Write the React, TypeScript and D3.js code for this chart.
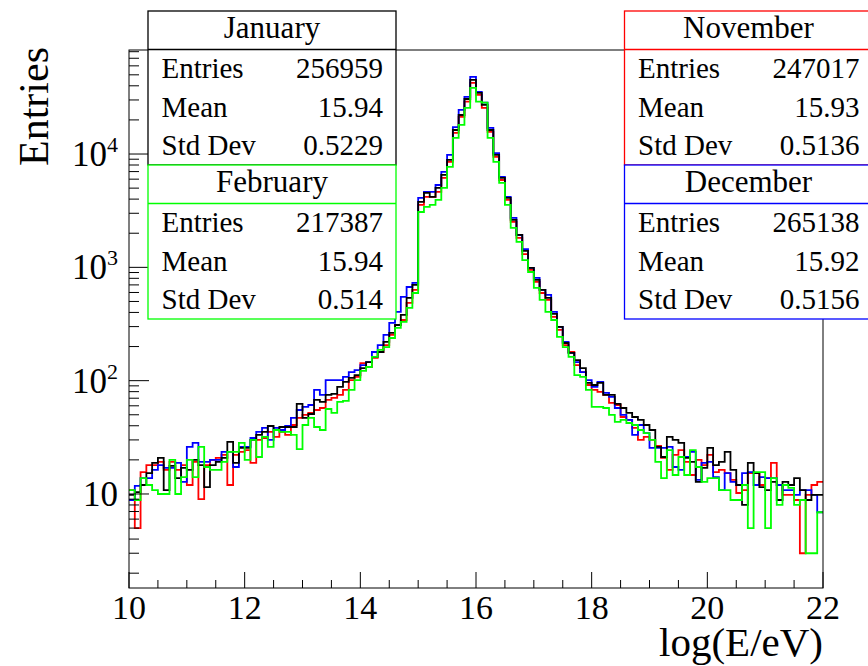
import React from "react";
import * as d3 from "d3";

// Canvas and histogram binning
const W = 868;
const H = 666;
const binLow = 10;
const binHigh = 22;
const nBins = 120;

// Bin contents, 0.1-wide bins from 10 to 22 in log(E/eV)
const january = [
  9.8, 10.4, 12.0, 15.3, 18.8, 20.8, 10.8, 17.7, 13.8, 17.0,
  16.3, 20.0, 18.0, 11.5, 18.0, 19.2, 20.8, 28.8, 18.8, 25.5,
  25.5, 30.0, 33.2, 35.3, 39.8, 36.7, 39.0, 39.0, 39.0, 62.3,
  46.9, 50.8, 67.6, 64.9, 74.8, 76.3, 88.0, 97.5, 106, 112,
  129, 146, 162, 179, 220, 264, 310, 380, 537, 700,
  3776, 4540, 4180, 5020, 6540, 8880, 16300, 22100, 30600, 45100,
  34600, 27100, 16300, 9820, 6150, 4100, 2620, 1933, 1397, 988,
  774, 632, 537, 388, 298, 215, 176, 152, 129, 95.5,
  91.6, 95.5, 74.8, 74.8, 62.3, 57.4, 51.9, 47.8, 45.0, 40.6,
  36.7, 26.0, 21.2, 31.9, 30.0, 28.2, 20.8, 19.2, 12.8, 17.0,
  25.5, 18.0, 19.2, 23.5, 16.3, 12.0, 8.0, 18.8, 15.3, 11.5,
  10.8, 12.8, 8.85, 12.8, 12.0, 13.8, 10.8, 8.85, 9.8, 9.8,
];

const february = [
  10.8, 8.85, 13.8, 12.0, 10.8, 10.0, 10.0, 20.0, 10.0, 14.1,
  20.0, 14.1, 26.0, 17.3, 16.3, 16.3, 19.2, 23.5, 23.5, 28.2,
  20.0, 30.0, 21.2, 31.9, 26.0, 36.7, 35.3, 35.3, 33.2, 24.9,
  40.6, 46.9, 39.0, 36.7, 56.2, 51.9, 64.9, 66.2, 82.8, 101,
  122, 132, 162, 187, 198, 238, 292, 330, 438, 594,
  3080, 3410, 3560, 3940, 5020, 7690, 13870, 18070, 25530, 38300,
  28990, 28400, 13870, 8510, 5560, 3560, 2230, 1675, 1160, 910,
  658, 516, 404, 343, 243, 198, 162, 112, 108, 82.8,
  58.6, 58.6, 57.4, 49.8, 43.2, 45.0, 42.3, 40.6, 36.7, 34.5,
  30.0, 19.2, 13.8, 24.4, 14.7, 21.2, 14.7, 24.4, 17.3, 12.8,
  13.8, 13.8, 10.8, 10.8, 8.85, 8.85, 12.0, 5.0, 15.6, 15.6,
  5.0, 13.8, 8.0, 12.0, 11.3, 8.0, 8.85, 3.0, 3.0, 6.9,
];

const november = [
  10.8, 5.0, 15.6, 18.0, 18.0, 19.2, 16.3, 19.2, 16.3, 18.0,
  12.0, 19.2, 9.0, 18.0, 20.0, 20.8, 22.1, 12.0, 22.1, 23.5,
  24.4, 18.8, 30.0, 31.2, 35.3, 31.9, 35.3, 33.2, 40.6, 46.9,
  49.8, 51.9, 55.1, 57.4, 67.6, 70.4, 74.8, 82.8, 101, 108,
  143, 132, 159, 179, 206, 254, 310, 343, 485, 632,
  3560, 4180, 4180, 4630, 6150, 8510, 15350, 21250, 29000, 42400,
  33200, 25500, 15700, 9420, 5900, 3940, 2520, 1820, 1310, 948,
  743, 594, 516, 365, 281, 206, 179, 137, 119, 91.6,
  82.8, 79.5, 74.8, 63.6, 61.0, 47.8, 45.0, 38.3, 30.0, 31.9,
  30.0, 26.5, 20.8, 16.3, 22.1, 24.4, 19.2, 14.7, 20.0, 18.0,
  22.1, 15.6, 16.3, 15.3, 13.3, 10.2, 10.8, 15.3, 15.3, 12.0,
  13.8, 18.8, 12.0, 9.8, 9.8, 8.85, 3.0, 9.8, 12.0, 12.8,
];

const december = [
  8.85, 11.8, 13.8, 13.8, 16.3, 18.0, 17.0, 17.0, 18.8, 12.8,
  26.0, 28.2, 19.2, 19.2, 20.0, 20.0, 23.5, 23.5, 17.3, 26.0,
  26.0, 31.2, 35.3, 38.3, 30.0, 38.3, 36.7, 39.8, 46.9, 55.1,
  58.6, 61.0, 82.8, 74.8, 101, 101, 101, 108, 119, 124,
  137, 146, 179, 206, 254, 323, 404, 548, 671, 728,
  4100, 4630, 4630, 5330, 6950, 9820, 17300, 24500, 31900, 47900,
  35300, 28400, 17000, 10200, 6280, 4180, 2730, 1930, 1450, 988,
  806, 632, 571, 404, 298, 220, 176, 146, 119, 101,
  88.0, 97.5, 77.9, 71.8, 57.4, 49.8, 45.0, 33.2, 40.6, 34.5,
  25.5, 25.5, 25.5, 26.0, 17.3, 16.3, 21.2, 23.5, 13.3, 18.8,
  19.2, 14.1, 10.8, 15.3, 12.8, 12.0, 15.3, 15.6, 12.0, 14.1,
  13.8, 13.8, 12.0, 10.8, 10.8, 9.8, 10.8, 10.8, 9.8, 6.9,
];

// Statistics boxes
const months = ["January", "February", "November", "December"];
const entries = ["256959", "217387", "247017", "265138"];
const means = ["15.94", "15.94", "15.93", "15.92"];
const stdDevs = ["0.5229", "0.514", "0.5136", "0.5156"];
const monthColors = ["#000000", "#00ff00", "#ff0000", "#0000ff"];
const statLabels = ["Entries", "Mean", "Std Dev"];

// Axis labels
const xTickValues = [10, 12, 14, 16, 18, 20, 22];
const yLabelExponents = [1, 2, 3, 4];
const xTitle = "log(E/eV)";
const yTitle = "Entries";

const FONT = "'Liberation Serif', 'Times New Roman', Times, serif";

const plot = { left: 129, right: 823, top: 50, bottom: 588 };

export default function App() {
  const x = d3.scaleLinear().domain([binLow, binHigh]).range([plot.left, plot.right]);
  const y = d3.scaleLog().domain([1.48, 82800]).range([plot.bottom, plot.top]);

  const binWidth = (binHigh - binLow) / nBins;
  const stepLine = d3
    .line<[number, number]>()
    .x((d) => x(d[0]))
    .y((d) => y(d[1]))
    .curve(d3.curveStepAfter);

  const pathFor = (vals: number[]) => {
    const pts: [number, number][] = vals.map((v, i) => [binLow + i * binWidth, v]);
    pts.push([binHigh, vals[vals.length - 1]]);
    return stepLine(pts) || "";
  };

  // draw order: November, December, January, February
  const series = [
    { vals: november, color: monthColors[2] },
    { vals: december, color: monthColors[3] },
    { vals: january, color: monthColors[0] },
    { vals: february, color: monthColors[1] },
  ];

  const xMinor = d3.range(binLow, binHigh + 0.001, 0.5);
  const yMinor: number[] = [];
  for (let e = 0; e <= 4; e++) {
    for (let m = 2; m <= 9; m++) {
      const v = m * Math.pow(10, e);
      if (v > 1.48 && v < 82800) yMinor.push(v);
    }
  }

  const boxes = [
    { idx: 0, bx: 148, by: 11 },
    { idx: 1, bx: 148, by: 165 },
    { idx: 2, bx: 624.5, by: 11 },
    { idx: 3, bx: 624.5, by: 165 },
  ];
  const boxW = 248;
  const boxH = 154;
  const headerH = 38.5;

  return (
    <svg
      width={W}
      height={H}
      viewBox={`0 0 ${W} ${H}`}
      style={{ position: "absolute", left: 0, top: 0, background: "#fff" }}
    >
      <defs>
        <clipPath id="plotArea">
          <rect x={plot.left} y={plot.top} width={plot.right - plot.left} height={plot.bottom - plot.top} />
        </clipPath>
      </defs>
      <rect x={0} y={0} width={W} height={H} fill="#fff" />

      {/* histograms */}
      <g clipPath="url(#plotArea)">
        {series.map((s, k) => (
          <path key={k} d={pathFor(s.vals)} fill="none" stroke={s.color} strokeWidth={1.8} />
        ))}
      </g>

      {/* frame */}
      <rect
        x={plot.left}
        y={plot.top}
        width={plot.right - plot.left}
        height={plot.bottom - plot.top}
        fill="none"
        stroke="#000"
        strokeWidth={1}
      />

      {/* x axis ticks */}
      {xMinor.map((v, i) => {
        const major = xTickValues.includes(Math.round(v * 10) / 10);
        return (
          <line
            key={`xt${i}`}
            x1={x(v)}
            x2={x(v)}
            y1={plot.bottom}
            y2={plot.bottom - (major ? 16 : 8)}
            stroke="#000"
            strokeWidth={1}
          />
        );
      })}
      {xTickValues.map((v) => (
        <text
          key={`xl${v}`}
          x={x(v)}
          y={619}
          textAnchor="middle"
          fontFamily={FONT}
          fontSize={34}
          fill="#000"
        >
          {v}
        </text>
      ))}
      <text x={plot.right} y={656} textAnchor="end" fontFamily={FONT} fontSize={41} fill="#000">
        {xTitle}
      </text>

      {/* y axis ticks */}
      {yMinor.map((v, i) => (
        <line key={`ym${i}`} x1={plot.left} x2={plot.left + 10} y1={y(v)} y2={y(v)} stroke="#000" strokeWidth={1} />
      ))}
      {yLabelExponents.map((e) => (
        <line
          key={`yM${e}`}
          x1={plot.left}
          x2={plot.left + 20}
          y1={y(Math.pow(10, e))}
          y2={y(Math.pow(10, e))}
          stroke="#000"
          strokeWidth={1}
        />
      ))}
      {yLabelExponents.map((e) => (
        <text
          key={`yl${e}`}
          x={118}
          y={y(Math.pow(10, e)) + 12}
          textAnchor="end"
          fontFamily={FONT}
          fontSize={35}
          fill="#000"
        >
          <tspan>10</tspan>
          {e > 1 && (
            <tspan dy={-14} fontSize={22}>
              {e}
            </tspan>
          )}
        </text>
      ))}
      <text
        transform={`translate(48, ${plot.top - 3}) rotate(-90)`}
        textAnchor="end"
        fontFamily={FONT}
        fontSize={42}
        fill="#000"
      >
        {yTitle}
      </text>

      {/* statistics boxes */}
      {boxes.map(({ idx, bx, by }) => {
        const c = monthColors[idx];
        const vals = [entries[idx], means[idx], stdDevs[idx]];
        return (
          <g key={`box${idx}`}>
            <rect x={bx} y={by} width={boxW} height={boxH} fill="#fff" stroke={c} strokeWidth={1.3} />
            <line x1={bx} x2={bx + boxW} y1={by + headerH} y2={by + headerH} stroke={c} strokeWidth={1.3} />
            <text
              x={bx + boxW / 2}
              y={by + 27}
              textAnchor="middle"
              fontFamily={FONT}
              fontSize={31}
              fill="#000"
            >
              {months[idx]}
            </text>
            {statLabels.map((lab, r) => (
              <g key={lab}>
                <text x={bx + 13.5} y={by + 67 + r * 38.5} fontFamily={FONT} fontSize={29} fill="#000">
                  {lab}
                </text>
                <text
                  x={bx + boxW - 13}
                  y={by + 67 + r * 38.5}
                  textAnchor="end"
                  fontFamily={FONT}
                  fontSize={29}
                  fill="#000"
                >
                  {vals[r]}
                </text>
              </g>
            ))}
          </g>
        );
      })}
    </svg>
  );
}
